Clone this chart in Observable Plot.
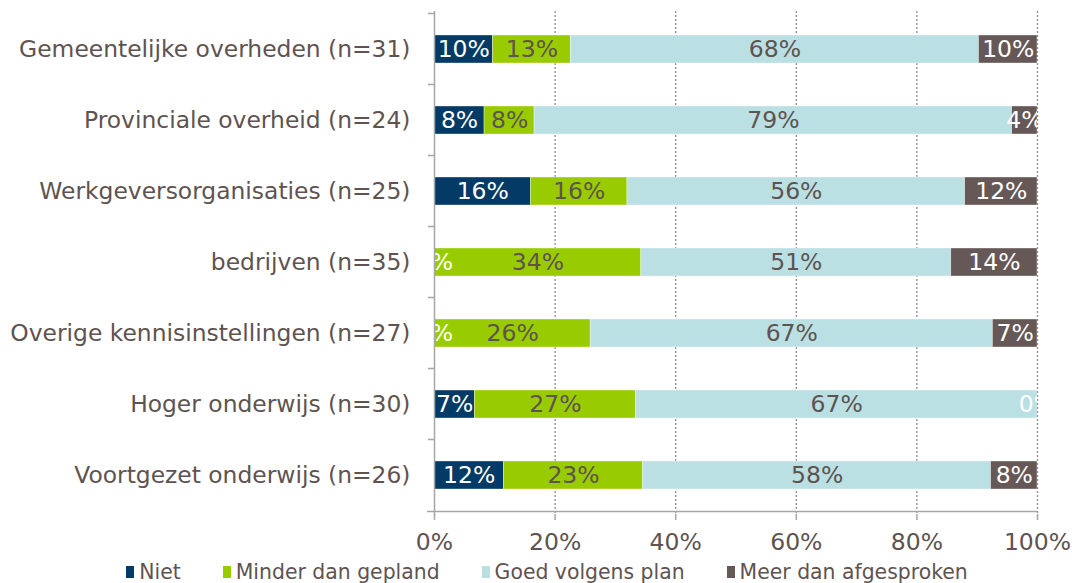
<!DOCTYPE html>
<html>
<head>
<meta charset="utf-8">
<script src="https://cdn.jsdelivr.net/npm/d3@7"></script>
<script src="https://cdn.jsdelivr.net/npm/@observablehq/plot@0.6"></script>
<style>
  body { margin: 0; background: #fff; font-family: "DejaVu Sans", Verdana, sans-serif; }
  #legend { display: flex; justify-content: center; padding-left: 22px; height: 28px; align-items: center; font-size: 20.4px; color: #5e5350; margin-top: 3px; }
  #legend .item { display: flex; align-items: center; margin: 0 21px; }
  #legend .sw { width: 8px; height: 12px; margin-right: 5px; display: inline-block; }
</style>
</head>
<body>
<div id="chart"></div>
<div id="legend"></div>
<script>
const categories = [
  "Gemeentelijke overheden (n=31)",
  "Provinciale overheid (n=24)",
  "Werkgeversorganisaties (n=25)",
  "bedrijven (n=35)",
  "Overige kennisinstellingen (n=27)",
  "Hoger onderwijs (n=30)",
  "Voortgezet onderwijs (n=26)"
];
const seriesNames = ["Niet", "Minder dan gepland", "Goed volgens plan", "Meer dan afgesproken"];
const seriesColors = ["#033a66", "#99cc00", "#bae0e3", "#655856"];
const niet   = [9.7, 8.3, 16.0, 0.0, 0.0, 6.7, 11.5];
const minder = [12.9, 8.3, 16.0, 34.3, 25.9, 26.7, 23.1];
const goed   = [67.7, 79.2, 56.0, 51.4, 66.7, 66.6, 57.7];
const meer   = [9.7, 4.2, 12.0, 14.3, 7.4, 0.0, 7.7];
const xTicks = [0, 20, 40, 60, 80, 100];

const seriesValues = [niet, minder, goed, meer];
const labelColors = ["#ffffff", "#5e5350", "#5e5350", "#ffffff"];
const data = [];
categories.forEach((c, i) => {
  seriesValues.forEach((vals, s) => {
    data.push({category: c, series: seriesNames[s], s, value: vals[i]});
  });
});

const textColor = "#5e5350";
const axisColor = "#a6a6a6";

const chart = Plot.plot({
  width: 1072,
  height: 555,
  marginLeft: 434,
  marginRight: 35,
  marginTop: 11,
  marginBottom: 41,
  style: {fontFamily: "'DejaVu Sans', Verdana, sans-serif", fontSize: "23px", color: textColor, background: "#fff"},
  x: {domain: [0, 100], ticks: xTicks, label: null},
  y: {domain: categories, paddingInner: 0.6, paddingOuter: 0.3, label: null},
  color: {domain: seriesNames, range: seriesColors},
  marks: [
    Plot.gridX(xTicks.filter(t => t > 0), {stroke: "#8c8c8c", strokeOpacity: 1, strokeDasharray: "2,2", strokeWidth: 1.3}),
    Plot.barX(data, Plot.stackX({x: "value", y: "category", fill: "series", order: seriesNames, clip: true, stroke: "#ffffff", strokeWidth: 0.6, strokeOpacity: 0.6})),
    Plot.text(data, Plot.stackX({
      x: "value", y: "category", order: seriesNames,
      text: d => Math.round(d.value) + "%",
      fill: d => labelColors[d.s],
      fontSize: 23.5, clip: true
    })),
    Plot.ruleX([0], {stroke: axisColor, strokeWidth: 1.5, insetBottom: -1}),
    Plot.ruleY([categories[categories.length - 1]], {stroke: axisColor, strokeWidth: 1.5, dy: 36, x1: 0, x2: 100, insetLeft: -7}),
    Plot.axisY({tickSize: 6, stroke: axisColor, strokeWidth: 1.5, tickFormat: () => "", dy: -36, label: null}),
    Plot.axisY({tickSize: 0, tickPadding: 24, fill: textColor, fontSize: 23.4, label: null}),
    Plot.axisX({ticks: xTicks, tickSize: 6, stroke: axisColor, strokeWidth: 1.5, tickPadding: 13, tickFormat: d => d + "%", fill: textColor, fontSize: 23.5, label: null})
  ]
});
document.getElementById("chart").appendChild(chart);

const legend = document.getElementById("legend");
seriesNames.forEach((name, i) => {
  const item = document.createElement("div");
  item.className = "item";
  const sw = document.createElement("span");
  sw.className = "sw";
  sw.style.background = seriesColors[i];
  const tx = document.createElement("span");
  tx.textContent = name;
  item.appendChild(sw);
  item.appendChild(tx);
  legend.appendChild(item);
});
</script>
</body>
</html>
